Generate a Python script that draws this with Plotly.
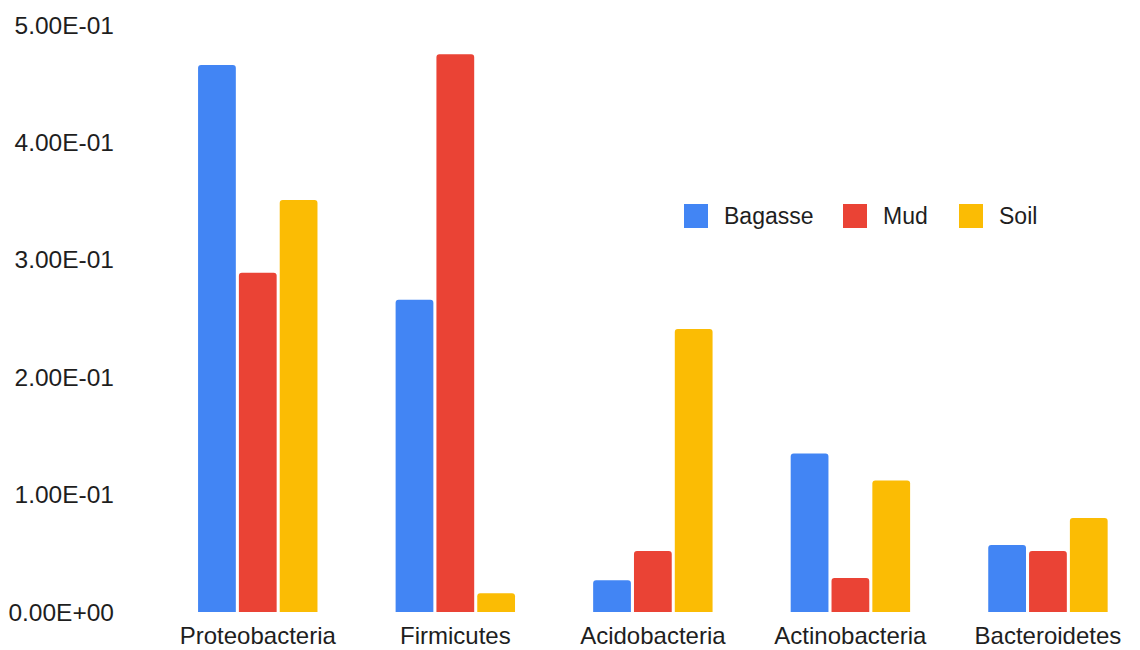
import plotly.graph_objects as go

# Relative abundance of the dominant phyla in three sample types
phyla = ["Proteobacteria", "Firmicutes", "Acidobacteria", "Actinobacteria", "Bacteroidetes"]
series_names = ["Bagasse", "Mud", "Soil"]
bagasse = [0.466, 0.266, 0.027, 0.135, 0.057]
mud = [0.289, 0.475, 0.052, 0.029, 0.052]
soil = [0.351, 0.016, 0.241, 0.112, 0.080]
y_ticks = [0.0, 0.1, 0.2, 0.3, 0.4, 0.5]
y_tick_labels = ["0.00E+00", "1.00E-01", "2.00E-01", "3.00E-01", "4.00E-01", "5.00E-01"]

colors = ["#4285F4", "#EA4335", "#FBBC04"]
text_color = "#1e1e1e"
font_family = "Arial, Liberation Sans, sans-serif"

W, H = 1140, 650
m_l, m_r, m_t, m_b = 159, 0, 25, 38
plot_w = W - m_l - m_r
plot_h = H - m_t - m_b

fig = go.Figure()
for name, vals, col in zip(series_names, [bagasse, mud, soil], colors):
    fig.add_trace(go.Bar(
        x=phyla, y=vals, name=name,
        marker=dict(color=col, line=dict(width=0)),
        showlegend=False,
    ))

# Custom legend: square swatch + label, positioned in pixels
legend_swatch_x = [684, 843, 959]
legend_y_center = 216
swatch = 24
text_gap = 14


def px_to_paper_x(px):
    return (px - m_l) / plot_w


def px_to_paper_y(py):
    return (H - m_b - py) / plot_h


for name, col, sx in zip(series_names, colors, legend_swatch_x):
    fig.add_shape(
        type="rect", xref="paper", yref="paper",
        x0=px_to_paper_x(sx), x1=px_to_paper_x(sx + swatch),
        y0=px_to_paper_y(legend_y_center + swatch / 2),
        y1=px_to_paper_y(legend_y_center - swatch / 2),
        fillcolor=col, line=dict(width=0), layer="above",
    )
    fig.add_annotation(
        xref="paper", yref="paper",
        x=px_to_paper_x(sx + swatch + text_gap), y=px_to_paper_y(legend_y_center),
        xanchor="left", yanchor="middle", text=name, showarrow=False,
        font=dict(size=23, color=text_color, family=font_family),
    )

fig.update_layout(
    width=W, height=H,
    margin=dict(l=m_l, r=m_r, t=m_t, b=m_b, autoexpand=False),
    paper_bgcolor="white", plot_bgcolor="white",
    barmode="group", bargap=0.38, bargroupgap=0.075,
    barcornerradius=3,
    font=dict(family=font_family, size=24.5, color=text_color),
    showlegend=False,
)
fig.update_xaxes(
    range=[-0.5, 4.466], showgrid=False, zeroline=False, showline=False,
    ticks="", tickfont=dict(size=24, color=text_color), ticklabelstandoff=7,
    automargin=False,
)
fig.update_yaxes(
    range=[0, 0.5], tickvals=y_ticks, ticktext=y_tick_labels,
    showgrid=False, zeroline=False, showline=False, ticks="",
    tickfont=dict(size=24.5, color=text_color), ticklabelstandoff=44,
    automargin=False,
)

fig.write_html("out.html")
